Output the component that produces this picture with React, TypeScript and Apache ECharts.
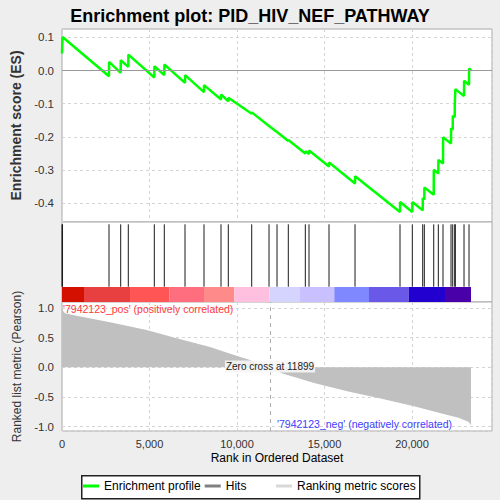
import React, { useEffect, useRef } from 'react';
import * as echarts from 'echarts';

// GSEA enrichment plot: ES curve, hit ticks + rank colour bar, ranked metric area

const FONT = '"Liberation Sans", Arial, sans-serif';
const RANK_MAX = 24570;
const ZERO_CROSS = 11899;

// running enrichment score, read at each hit (before / after the jump)
const esRanks = [0, 30, 2686, 2690, 3354, 3358, 3789, 3793, 5274, 5278, 5846, 5850, 7029, 7033, 8114, 8118, 9086, 9090, 9503, 9507, 10840, 10844, 11829, 11833, 12286, 12290, 12931, 12935, 13903, 13907, 14114, 14118, 15257, 15261, 16743, 16747, 19314, 19318, 20017, 20021, 20611, 20615, 20703, 20707, 21240, 21244, 21503, 21507, 21771, 21775, 22229, 22233, 22326, 22330, 22440, 22444, 22474, 22478, 22971, 22975, 23257, 23261, 23371];
const esScores = [0.051, 0.101, -0.017, 0.026, -0.007, 0.031, 0.011, 0.048, -0.021, 0.013, -0.014, 0.018, -0.037, -0.014, -0.065, -0.044, -0.087, -0.072, -0.093, -0.082, -0.130, -0.126, -0.167, -0.166, -0.185, -0.184, -0.212, -0.209, -0.250, -0.243, -0.251, -0.241, -0.289, -0.277, -0.340, -0.318, -0.426, -0.396, -0.426, -0.396, -0.421, -0.384, -0.388, -0.352, -0.374, -0.299, -0.310, -0.269, -0.280, -0.201, -0.220, -0.174, -0.178, -0.136, -0.141, -0.099, -0.100, -0.056, -0.077, -0.031, -0.043, 0.006, 0.001];

// positions of the gene set members in the ranked list
const hitRanks = [0, 30, 2686, 3354, 3789, 5274, 5846, 7029, 8114, 9086, 9503, 10840, 11829, 12286, 12931, 13903, 14114, 15257, 16743, 19314, 20017, 20611, 20703, 21240, 21503, 21771, 22229, 22326, 22440, 22474, 22971, 23257];

// colour bar bands under the hits
const bandEdges = [0, 1257, 3886, 6131, 8114, 9846, 11846, 13600, 15560, 17543, 19811, 21886, 23371];
const bandColors = ['#d41100', '#e84040', '#ff5555', '#ff6e7e', '#ff8a8a', '#ffc0e0', '#d4d4ff', '#c8c0ff', '#8088ff', '#6a58e8', '#2200d0', '#4a00a8'];

// ranked list metric (Pearson)
const metricRanks = [0, 60, 171, 838, 2743, 4838, 6552, 8457, 9790, 10743, 11314, 11899, 12552, 14457, 16362, 18267, 20171, 21695, 22648, 23219, 23371];
const metricValues = [1.0, 0.95, 0.91, 0.87, 0.76, 0.63, 0.49, 0.34, 0.21, 0.12, 0.04, 0.0, -0.10, -0.27, -0.41, -0.53, -0.66, -0.78, -0.85, -0.92, -0.98];

const HIT_BOTTOM = 0.191;
const HIT_TOP = 0.971;
const BAR_TOP = 0.1875;

const fmt1 = (v: number) => (Math.abs(v) < 1e-9 ? '0.0' : v.toFixed(1));
const dashed = { show: true, lineStyle: { color: '#d4d4d4', type: [3, 3] as any, width: 1 } };

export default function App() {
  const chartRef = useRef<HTMLDivElement>(null);

  useEffect(() => {
    if (!chartRef.current) return;
    const chart = echarts.init(chartRef.current, undefined, { renderer: 'svg' });

    const gridBase = { left: 62, width: 430, show: true, backgroundColor: '#fff', borderColor: '#a8a8a8', borderWidth: 1 };

    chart.setOption({
      animation: false,
      textStyle: { fontFamily: FONT },
      title: {
        text: 'Enrichment plot: PID_HIV_NEF_PATHWAY',
        left: 'center',
        top: 2,
        textStyle: { fontSize: 18, fontWeight: 'bold', color: '#000', fontFamily: FONT },
      },
      grid: [
        { ...gridBase, top: 29, height: 193 },
        { ...gridBase, top: 222, height: 80 },
        { ...gridBase, top: 302, height: 129 },
      ],
      xAxis: [
        {
          type: 'value', gridIndex: 0, min: 0, max: RANK_MAX, interval: 5000,
          axisLine: { show: false }, axisTick: { show: false }, axisLabel: { show: false },
          splitLine: dashed,
        },
        {
          type: 'value', gridIndex: 1, min: 0, max: RANK_MAX, interval: 5000,
          axisLine: { show: false }, axisTick: { show: false }, axisLabel: { show: false },
          splitLine: { show: false },
        },
        {
          type: 'value', gridIndex: 2, min: 0, max: RANK_MAX, interval: 5000,
          axisLine: { show: false }, axisTick: { show: false },
          axisLabel: {
            color: '#333', fontSize: 11, margin: 7, showMaxLabel: false, fontFamily: FONT,
            formatter: (v: number) => v.toLocaleString('en-US'),
          },
          splitLine: dashed,
          name: 'Rank in Ordered Dataset',
          nameLocation: 'middle',
          nameGap: 21,
          nameTextStyle: { color: '#000', fontSize: 12, fontFamily: FONT },
        },
      ],
      yAxis: [
        {
          type: 'value', gridIndex: 0, min: -0.456, max: 0.125, splitNumber: 5,
          axisLine: { show: false }, axisTick: { show: false },
          axisLabel: { color: '#333', fontSize: 11.5, margin: 8, showMinLabel: false, showMaxLabel: false, formatter: fmt1, fontFamily: FONT },
          splitLine: dashed,
          name: 'Enrichment score (ES)',
          nameLocation: 'middle',
          nameGap: 36,
          nameTextStyle: { color: '#333', fontSize: 14, fontWeight: 'bold', fontFamily: FONT },
        },
        {
          type: 'value', gridIndex: 1, min: 0, max: 1,
          axisLine: { show: false }, axisTick: { show: false }, axisLabel: { show: false },
          splitLine: { show: false },
        },
        {
          type: 'value', gridIndex: 2, min: -1.075, max: 1.1, splitNumber: 5,
          axisLine: { show: false }, axisTick: { show: false },
          axisLabel: { color: '#333', fontSize: 11.5, margin: 8, showMinLabel: false, showMaxLabel: false, formatter: fmt1, fontFamily: FONT },
          splitLine: dashed,
          name: 'Ranked list metric (Pearson)',
          nameLocation: 'middle',
          nameGap: 31,
          nameTextStyle: { color: '#333', fontSize: 12, fontFamily: FONT },
        },
      ],
      legend: [
        {
          data: [
            { name: 'Enrichment profile', itemStyle: { color: '#00ff00' } },
            { name: 'Hits', itemStyle: { color: '#808080' } },
          ],
          left: 83, top: 480, icon: 'rect', itemWidth: 16, itemHeight: 3, itemGap: 4,
          selectedMode: false, padding: 0, z: 5,
          textStyle: { color: '#000', fontSize: 12, fontFamily: FONT },
        },
        {
          data: [{ name: 'Ranking metric scores', itemStyle: { color: '#d8d8d8' } }],
          left: 276, top: 480, icon: 'rect', itemWidth: 16, itemHeight: 3,
          selectedMode: false, padding: 0, z: 5,
          textStyle: { color: '#000', fontSize: 12, fontFamily: FONT },
        },
      ],
      graphic: [
        {
          type: 'rect', left: 81, top: 475, z: 1,
          shape: { width: 338, height: 23 },
          style: { fill: '#fff', stroke: '#222', lineWidth: 1.5 },
        },
        {
          type: 'text', x: 63, y: 308.5, z: 10,
          style: { text: "'7942123_pos' (positively correlated)", fill: '#ff3a3a', fontSize: 10.5, fontFamily: FONT, verticalAlign: 'middle', align: 'left' },
        },
        {
          type: 'text', x: 277, y: 424, z: 10,
          style: { text: "'7942123_neg' (negatively correlated)", fill: '#4040ff', fontSize: 10.5, fontFamily: FONT, verticalAlign: 'middle', align: 'left' },
        },
        {
          type: 'text', x: 270, y: 366.5, z: 10,
          style: {
            text: 'Zero cross at 11899', fill: '#222', fontSize: 10, fontFamily: FONT,
            verticalAlign: 'middle', align: 'center',
            backgroundColor: 'rgba(245,245,245,0.9)', padding: [1, 1],
          },
        },
      ],
      series: [
        {
          name: 'Enrichment profile',
          type: 'line',
          xAxisIndex: 0, yAxisIndex: 0,
          data: esRanks.map((r, i) => [r, esScores[i]]),
          showSymbol: false,
          symbol: 'none',
          lineStyle: { color: '#00ff00', width: 2.5 },
          itemStyle: { color: '#00ff00' },
          z: 4,
          markLine: {
            silent: true, symbol: ['none', 'none'], label: { show: false },
            lineStyle: { color: '#9a9a9a', type: 'solid', width: 1 },
            data: [{ yAxis: 0 }],
          },
        },
        {
          name: 'Hits',
          type: 'custom',
          xAxisIndex: 1, yAxisIndex: 1,
          itemStyle: { color: '#808080' },
          data: hitRanks.map((r) => [r, HIT_BOTTOM]),
          renderItem: (_params: any, api: any) => {
            const p1 = api.coord([api.value(0), HIT_BOTTOM]);
            const p2 = api.coord([api.value(0), HIT_TOP]);
            return {
              type: 'line',
              shape: { x1: p1[0], y1: p1[1], x2: p2[0], y2: p2[1] },
              style: { stroke: '#1a1a1a', lineWidth: 1 },
            };
          },
          z: 3,
        },
        {
          name: 'band',
          type: 'custom',
          xAxisIndex: 1, yAxisIndex: 1,
          data: bandColors.map((_c, i) => [bandEdges[i], bandEdges[i + 1], i]),
          renderItem: (_params: any, api: any) => {
            const a = api.coord([api.value(0), 0]);
            const b = api.coord([api.value(1), BAR_TOP]);
            return {
              type: 'rect',
              shape: { x: a[0], y: b[1], width: b[0] - a[0], height: a[1] - b[1] },
              style: { fill: bandColors[api.value(2)] },
            };
          },
          z: 2,
        },
        {
          name: 'Ranking metric scores',
          type: 'line',
          xAxisIndex: 2, yAxisIndex: 2,
          data: metricRanks.map((r, i) => [r, metricValues[i]]),
          showSymbol: false,
          symbol: 'none',
          lineStyle: { width: 0, opacity: 0 },
          areaStyle: { color: '#c0c0c0', opacity: 1 },
          itemStyle: { color: '#d8d8d8' },
          z: 2,
          markLine: {
            silent: true, symbol: ['none', 'none'], label: { show: false },
            lineStyle: { color: '#b0b0b0', type: [4, 4], width: 1 },
            data: [{ xAxis: ZERO_CROSS }],
          },
        },
      ],
    });

    return () => chart.dispose();
  }, []);

  return (
    <div
      ref={chartRef}
      style={{ position: 'absolute', left: 0, top: 0, width: 500, height: 500, background: '#eeeeee' }}
    />
  );
}
